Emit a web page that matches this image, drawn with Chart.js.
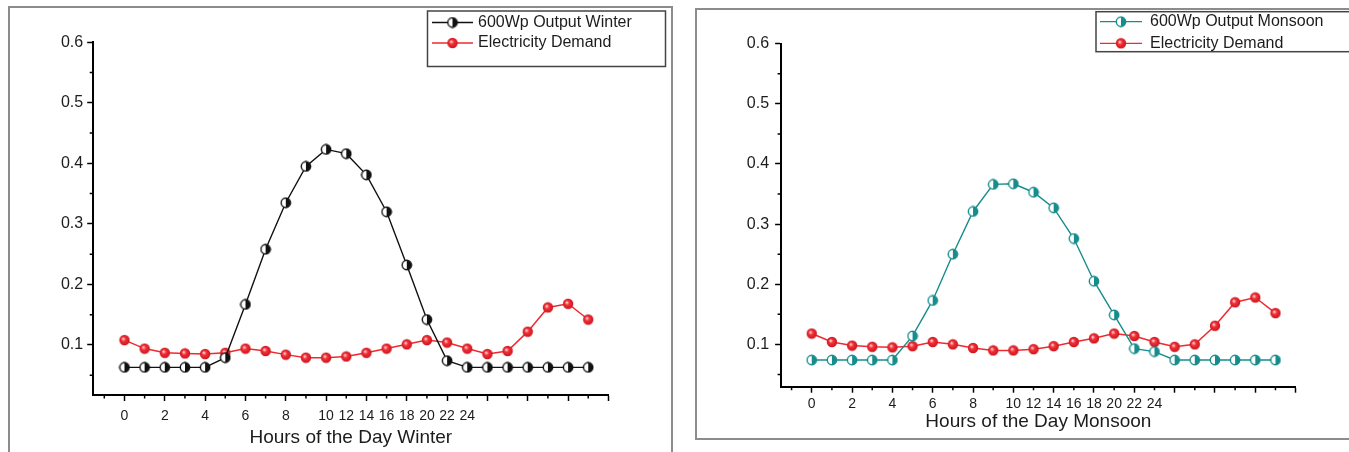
<!DOCTYPE html>
<html>
<head>
<meta charset="utf-8">
<script src="https://cdn.jsdelivr.net/npm/chart.js@4.4.0/dist/chart.umd.min.js"></script>
<style>
  html, body { margin: 0; padding: 0; background: #fff; }
  body { width: 1349px; height: 452px; position: relative; overflow: hidden; }
  .frame { position: absolute; border: 2px solid #8c8c8c; box-sizing: border-box; }
  canvas { position: absolute; top: 0; }
</style>
</head>
<body>
<div class="frame" style="left:8px; top:6px; width:665px; height:470px;"></div>
<div class="frame" style="left:695px; top:8px; width:700px; height:432px;"></div>
<canvas id="winterChart" width="680" height="452" style="left:0"></canvas>
<canvas id="monsoonChart" width="669" height="452" style="left:680px"></canvas>
<script>
// hour slots on the x axis (24 readings)
const slots = [0, 1, 2, 3, 4, 5, 6, 7, 8, 9, 10, 11, 12, 13, 14, 15, 16, 17, 18, 19, 20, 21, 22, 23];
// text printed under each slot tick (as in the original figure)
const xTickLabels = ['0', '', '2', '', '4', '', '6', '', '8', '', '10', '12', '14', '16', '18', '20', '22', '24', '', '', '', '', '', '', ''];

// Winter
const winterOutput = [0.063, 0.063, 0.063, 0.063, 0.063, 0.079, 0.167, 0.258, 0.335, 0.395, 0.423, 0.416,
                      0.381, 0.320, 0.232, 0.142, 0.074, 0.063, 0.063, 0.063, 0.063, 0.063, 0.063, 0.063];
const winterDemand = [0.108, 0.094, 0.087, 0.086, 0.085, 0.087, 0.094, 0.090, 0.084, 0.079, 0.079, 0.081,
                      0.087, 0.094, 0.101, 0.108, 0.104, 0.094, 0.085, 0.090, 0.122, 0.162, 0.168, 0.142];

// Monsoon
const monsoonOutput = [0.074, 0.074, 0.074, 0.074, 0.074, 0.114, 0.173, 0.250, 0.321, 0.366, 0.367, 0.353,
                       0.327, 0.276, 0.205, 0.149, 0.093, 0.088, 0.074, 0.074, 0.074, 0.074, 0.074, 0.074];
const monsoonDemand = [0.118, 0.104, 0.098, 0.096, 0.095, 0.097, 0.104, 0.100, 0.094, 0.090, 0.090, 0.092,
                       0.097, 0.104, 0.110, 0.118, 0.114, 0.104, 0.096, 0.100, 0.131, 0.170, 0.178, 0.152];

const FONT = '"Liberation Sans", Arial, sans-serif';

// half filled marker (left half white)
function halfMarker(color) {
    const c = document.createElement('canvas');
    c.width = 12; c.height = 12;
    const g = c.getContext('2d');
    g.beginPath(); g.arc(6, 6, 4.7, 0, Math.PI * 2); g.fillStyle = '#fff'; g.fill();
    g.beginPath(); g.arc(6, 6, 4.7, -Math.PI / 2, Math.PI / 2); g.closePath(); g.fillStyle = color; g.fill();
    g.beginPath(); g.arc(6, 6, 4.7, 0, Math.PI * 2); g.lineWidth = 1.4; g.strokeStyle = color; g.stroke();
    return c;
}

// shiny red ball
function ballMarker() {
    const c = document.createElement('canvas');
    c.width = 12; c.height = 12;
    const g = c.getContext('2d');
    const grad = g.createRadialGradient(4.6, 4.6, 0.4, 6, 6, 5.4);
    grad.addColorStop(0, '#ffd4d4');
    grad.addColorStop(0.35, '#f2323a');
    grad.addColorStop(1, '#cc121a');
    g.beginPath(); g.arc(6, 6, 5.2, 0, Math.PI * 2); g.fillStyle = grad; g.fill();
    return c;
}

// short minor ticks between the labelled ones
const minorTicks = {
    id: 'minorTicks',
    afterDraw(chart) {
        const { ctx, scales: { x, y } } = chart;
        ctx.save();
        ctx.strokeStyle = '#000';
        ctx.lineWidth = 1.5;
        ctx.beginPath();
        x.ticks.forEach(t => {
            if (Math.abs(t.value % 2) === 1) {
                const px = x.getPixelForValue(t.value);
                ctx.moveTo(px, x.top); ctx.lineTo(px, x.top + 3.5);
            }
        });
        y.ticks.forEach(t => {
            if (Math.round(t.value * 20) % 2 === 1) {
                const py = y.getPixelForValue(t.value);
                ctx.moveTo(y.right - 3.5, py); ctx.lineTo(y.right, py);
            }
        });
        ctx.stroke();
        ctx.restore();
    }
};

// boxed legend drawn at a fixed spot
const boxLegend = {
    id: 'boxLegend',
    afterDraw(chart, args, o) {
        const ctx = chart.ctx;
        ctx.save();
        ctx.fillStyle = '#fff';
        ctx.fillRect(o.x, o.y, o.w, o.h);
        ctx.strokeStyle = '#444';
        ctx.lineWidth = 1.5;
        ctx.strokeRect(o.x, o.y, o.w, o.h);
        chart.data.datasets.forEach((ds, i) => {
            const ly = o.rows[i];
            ctx.strokeStyle = ds.borderColor;
            ctx.lineWidth = 1.3;
            ctx.beginPath(); ctx.moveTo(o.lineFrom, ly); ctx.lineTo(o.lineTo, ly); ctx.stroke();
            const img = ds.pointStyle;
            ctx.drawImage(img, (o.lineFrom + o.lineTo) / 2 - img.width / 2, ly - img.height / 2);
            ctx.fillStyle = '#1c1c1c';
            ctx.font = '16px ' + FONT;
            ctx.textBaseline = 'middle';
            ctx.fillText(ds.label, o.textX, ly);
        });
        ctx.restore();
    }
};

function makeChart(id, s) {
    const ctx = document.getElementById(id).getContext('2d');
    return new Chart(ctx, {
        type: 'line',
        data: {
            datasets: [{
                label: s.outLabel,
                data: slots.map((h, i) => ({ x: h, y: s.output[i] })),
                borderColor: s.outColor,
                borderWidth: 1.4,
                pointStyle: halfMarker(s.outColor),
                pointRadius: 5,
                tension: 0
            }, {
                label: 'Electricity Demand',
                data: slots.map((h, i) => ({ x: h, y: s.demand[i] })),
                borderColor: '#ee2a30',
                borderWidth: 1.5,
                pointStyle: ballMarker(),
                pointRadius: 5,
                tension: 0
            }]
        },
        options: {
            responsive: false,
            animation: false,
            devicePixelRatio: 1,
            layout: { padding: { left: 0, top: s.top, right: s.right, bottom: 0 } },
            plugins: {
                legend: { display: false },
                tooltip: { enabled: false },
                boxLegend: s.legend
            },
            scales: {
                x: {
                    type: 'linear',
                    min: s.xMin,
                    max: 24,
                    afterFit: sc => { sc.height = s.xAxisH; },
                    border: { color: '#000', width: 2 },
                    grid: {
                        drawOnChartArea: false,
                        tickLength: 6,
                        tickWidth: 1.5,
                        tickColor: c => (Math.abs(c.tick.value % 2) === 1 ? 'rgba(0,0,0,0)' : '#000')
                    },
                    ticks: {
                        stepSize: 1,
                        includeBounds: false,
                        autoSkip: false,
                        maxRotation: 0,
                        padding: s.xPad,
                        color: '#1c1c1c',
                        font: { family: FONT, size: 14 },
                        callback: v => xTickLabels[v] ?? ''
                    },
                    title: {
                        display: true,
                        text: s.title,
                        color: '#1c1c1c',
                        font: { family: FONT, size: 19 },
                        padding: { top: 0, bottom: s.titlePad }
                    }
                },
                y: {
                    min: s.yMin,
                    max: 0.6,
                    afterFit: sc => { sc.width = s.yAxisW; },
                    border: { color: '#000', width: 2 },
                    grid: {
                        drawOnChartArea: false,
                        tickLength: 6,
                        tickWidth: 1.5,
                        tickColor: c => (Math.round(c.tick.value * 20) % 2 === 1 ? 'rgba(0,0,0,0)' : '#000')
                    },
                    ticks: {
                        stepSize: 0.05,
                        includeBounds: false,
                        padding: s.yPad,
                        color: '#1c1c1c',
                        font: { family: FONT, size: 16 },
                        callback: v => {
                            const k = Math.round(v * 20);
                            return k % 2 === 0 ? (k / 20).toFixed(1) : '';
                        }
                    }
                }
            }
        },
        plugins: [minorTicks, boxLegend]
    });
}

makeChart('winterChart', {
    outLabel: '600Wp Output Winter',
    outColor: '#111111',
    output: winterOutput,
    demand: winterDemand,
    title: 'Hours of the Day Winter',
    xMin: -1.55,
    yMin: 0.0173,
    top: 42.3,
    right: 71.6,
    xAxisH: 57,
    yAxisW: 93.2,
    xPad: 7,
    yPad: 4,
    titlePad: 3,
    legend: { x: 427.5, y: 11, w: 238, h: 55.5, rows: [22.5, 43], lineFrom: 432, lineTo: 473, textX: 478 }
});

makeChart('monsoonChart', {
    outLabel: '600Wp Output Monsoon',
    outColor: '#178c8c',
    output: monsoonOutput,
    demand: monsoonDemand,
    title: 'Hours of the Day Monsoon',
    xMin: -1.52,
    yMin: 0.0296,
    top: 43.7,
    right: 53.4,
    xAxisH: 65.3,
    yAxisW: 101.1,
    xPad: 3,
    yPad: 6,
    titlePad: 19,
    legend: { x: 416, y: 11.7, w: 280, h: 40, rows: [21.7, 43.3], lineFrom: 420, lineTo: 462, textX: 470 }
});
</script>
</body>
</html>
